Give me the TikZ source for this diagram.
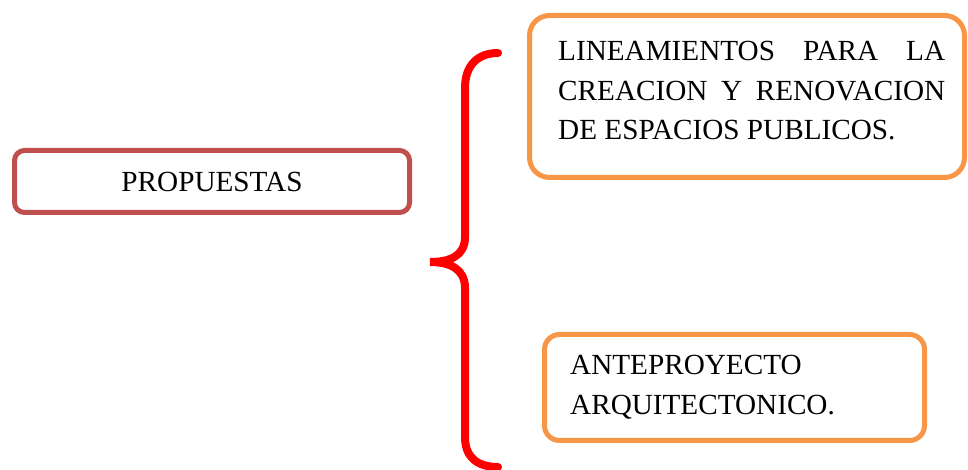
\documentclass[tikz,border=0pt]{standalone}
\usepackage{fontspec}
\setmainfont{Liberation Serif}
\usepackage{xcolor}
\usetikzlibrary{positioning}

\definecolor{propred}{HTML}{C0504D}
\definecolor{boxorange}{HTML}{F79646}

\begin{document}
\begin{tikzpicture}[
    x=1pt, y=1pt,
    every node/.style={font=\fontsize{29.2}{39.5}\selectfont},
    box/.style={rectangle, draw=#1, line width=5pt, inner sep=0pt},
    box/.default=boxorange,
    txt/.style={inner sep=0pt, text width=387pt, align=justify},
    brace/.style={draw=red, line width=8pt, line cap=round},
]
    \useasboundingbox (0,0) rectangle (968,470);

    \node[box=propred, rounded corners=10pt, minimum width=395pt, minimum height=62pt] (prop) at (212, 288.5) {PROPUESTAS};

    \node[box, rounded corners=20pt, minimum width=435pt, minimum height=162pt] (lin)  at (747, 373.5) {};
    \node[box, rounded corners=15pt, minimum width=380pt, minimum height=106pt] (ante) at (734.5, 82.5) {};

    \node[txt, anchor=base west] (lintxt) at (558, 409)
        {\hbadness=10000 LINEAMIENTOS PARA LA\linebreak CREACION Y RENOVACION\linebreak DE ESPACIOS PUBLICOS.};
    \node[txt, align=left, anchor=base west] (antetxt) at (570, 95)
        {ANTEPROYECTO\\ ARQUITECTONICO.};

    \coordinate (bracetop) at (498, 417);
    \coordinate (bracetip) at (430, 208);
    \coordinate (bracebot) at (498, 3);

    \draw[brace] (bracetop) .. controls (478, 417) and (465, 405) .. (465, 382) -- (465, 233)
        .. controls (465, 214) and (450, 208) .. (bracetip)
        .. controls (450, 208) and (465, 201) .. (465, 182) -- (465, 33)
        .. controls (465, 12) and (478, 3) .. (bracebot);
\end{tikzpicture}
\end{document}
